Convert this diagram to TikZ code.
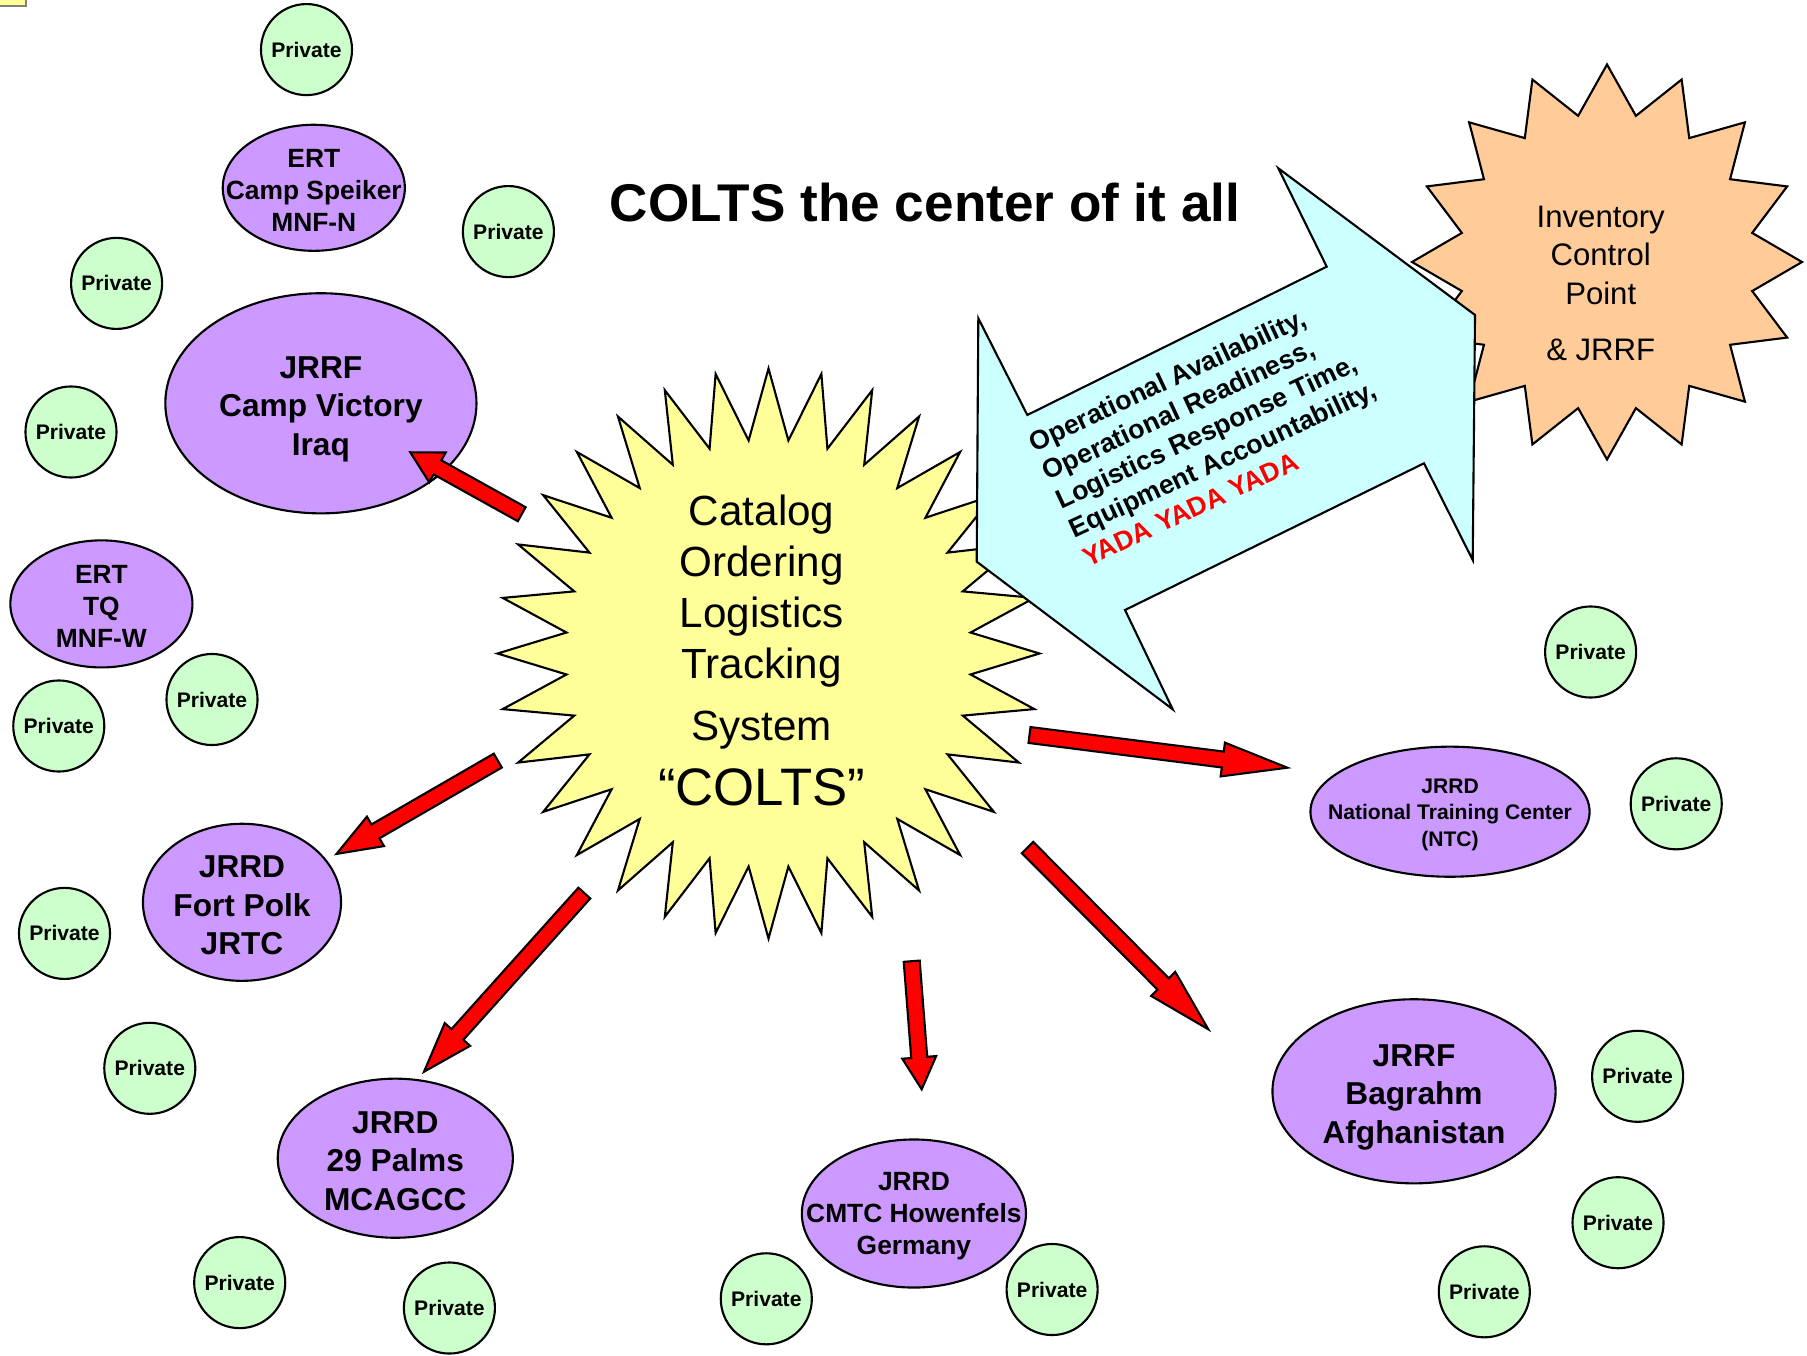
\documentclass[tikz,border=0pt]{standalone}
\usepackage{fontspec}
\setmainfont{Liberation Sans}
\usetikzlibrary{calc,shapes.geometric}

\definecolor{privgreen}{HTML}{CCFFCC}
\definecolor{sitepurple}{HTML}{CC99FF}
\definecolor{staryellow}{HTML}{FFFF99}
\definecolor{starorange}{HTML}{FFCC99}
\definecolor{arrowcyan}{HTML}{CCFFFF}

\tikzset{
  private/.style={circle, draw, fill=privgreen, line width=0.6pt, minimum size=0.91cm,
    inner sep=0pt, font=\fontsize{6}{7}\selectfont\bfseries},
  site/.style={ellipse, draw, fill=sitepurple, line width=0.6pt, inner sep=0pt},
  bigsite/.style={align=center, yshift=-0.03cm, font=\fontsize{9}{11}\selectfont\bfseries},
  smallsite/.style={align=center, yshift=-0.025cm, font=\fontsize{7.5}{9.15}\selectfont\bfseries},
  redblock/.style={draw, fill=red, line width=0.6pt, line join=miter},
}

% block arrow: tail, tip, head length
\newcommand{\blockarrow}[3]{%
  \coordinate (hb) at ($(#2)!#3!(#1)$);
  \draw[redblock] ($(#1)!0.08cm!90:(#2)$) -- ($(hb)!0.08cm!90:(#2)$)
    -- ($(hb)!0.17cm!90:(#2)$) -- (#2) -- ($(hb)!0.17cm!-90:(#2)$)
    -- ($(hb)!0.08cm!-90:(#2)$) -- ($(#1)!0.08cm!-90:(#2)$) -- cycle;
}

\begin{document}
\begin{tikzpicture}[x=0.01cm, y=-0.01cm]
\useasboundingbox (0,0) rectangle (1807,1355);

% little tab in the corner
\draw[fill=staryellow, draw=gray, line width=0.6pt] (-10,-10) rectangle (26,6);

% private circles
\foreach \n/\x/\y in {p1/306.5/49.6, p2/508.4/231.6, p3/116.6/283.4, p4/71/432,
    p5/212/699.5, p6/58.8/726, p7/64.5/933.4, p8/149.8/1068.3, p9/239.7/1282.6,
    p10/449.4/1308, p11/766.3/1298.8, p12/1052.1/1289.5, p13/1590.6/652,
    p14/1676.2/803.8, p15/1637.6/1076.3, p16/1618/1222.7, p17/1484.3/1291.8}
  \node[private] (\n) at (\x,\y) {Private};

% sites
\node[site, minimum width=1.82cm, minimum height=1.26cm,
  label={[smallsite]center:ERT\\Camp Speiker\\MNF-N}] (speiker) at (313.8,187.8) {};
\node[site, minimum width=3.11cm, minimum height=2.2cm,
  label={[bigsite, yshift=-0.03cm]center:JRRF\\Camp Victory\\Iraq}] (victory) at (320.9,403.3) {};
\node[site, minimum width=1.82cm, minimum height=1.27cm,
  label={[smallsite]center:ERT\\TQ\\MNF-W}] (tq) at (101.4,603.9) {};
\node[site, minimum width=1.98cm, minimum height=1.57cm,
  label={[bigsite]center:JRRD\\Fort Polk\\JRTC}] (polk) at (242,902.3) {};
\node[site, minimum width=2.35cm, minimum height=1.59cm,
  label={[bigsite]center:JRRD\\29 Palms\\MCAGCC}] (palms) at (395.3,1158.2) {};
\node[site, minimum width=2.24cm, minimum height=1.48cm,
  label={[smallsite]center:JRRD\\CMTC Howenfels\\Germany}] (cmtc) at (913.9,1213.5) {};
\node[site, minimum width=2.83cm, minimum height=1.84cm,
  label={[bigsite, yshift=-0.03cm]center:JRRF\\Bagrahm\\Afghanistan}] (bagrahm) at (1414,1091.3) {};
\node[site, minimum width=2.79cm, minimum height=1.3cm,
  label={[align=center, yshift=-0.03cm, font=\fontsize{6}{7.6}\selectfont\bfseries]center:JRRD\\National Training Center\\(NTC)}] (ntc) at (1450,811.7) {};

% red arrows out of the center
\coordinate (v0) at (521.7,514.2);   \coordinate (v1) at (410.3,452.3);
\coordinate (f0) at (497.8,760.6);   \coordinate (f1) at (336.5,853.9);
\coordinate (m0) at (584.3,893.1);   \coordinate (m1) at (424,1071.7);
\coordinate (c0) at (911.7,961.2);   \coordinate (c1) at (921.7,1089.3);
\coordinate (b0) at (1027.5,847.5);  \coordinate (b1) at (1208.3,1029.3);
\coordinate (n0) at (1029.5,735);    \coordinate (n1) at (1287.3,767.7);
\blockarrow{v0}{v1}{0.31cm}
\blockarrow{f0}{f1}{0.45cm}
\blockarrow{m0}{m1}{0.5cm}
\blockarrow{c0}{c1}{0.32cm}
\blockarrow{b0}{b1}{0.64cm}
\blockarrow{n0}{n1}{0.65cm}

% the COLTS star
\draw[fill=staryellow, line width=0.6pt] plot[samples at={0,...,64}, variable=\k]
  ({768.5+(271-68*mod(\k,2))*cos(90+5.625*\k)}, {653.5+(285-71*mod(\k,2))*sin(90+5.625*\k)}) -- cycle;
\node[align=center, inner sep=0pt, font=\fontsize{12}{14.5}\selectfont] (colts) at (761.7,650)
  {Catalog\\Ordering\\Logistics\\Tracking\\[3.3pt]System\\[3.8pt]{\fontsize{15}{18}\selectfont “COLTS”}};

% inventory control point star
\draw[fill=starorange, line width=0.6pt] plot[samples at={0,...,32}, variable=\k]
  ({1607+(195-47*mod(\k,2))*cos(90+11.25*\k)}, {262+(197.5-48.5*mod(\k,2))*sin(90+11.25*\k)}) -- cycle;
\node[align=center, inner sep=0pt, font=\fontsize{8.85}{10.9}\selectfont] (icp) at (1600.7,283.7)
  {Inventory\\Control\\Point\\[5.2pt]\& JRRF};

% two way arrow
\draw[fill=arrowcyan, line width=0.6pt] (978.3,318.3) -- (1027.3,415) -- (1326.7,266.7)
  -- (1278.3,168.3) -- (1475,315) -- (1472.7,560) -- (1424,463.3) -- (1125,610)
  -- (1172.7,709.3) -- (976.7,561.7) -- cycle;
\node[rotate=25, anchor=north west, align=left, inner sep=0pt,
  font=\fontsize{7.6}{9}\selectfont\bfseries] (metrics) at (1025.4,434.4)
  {Operational Availability,\\Operational Readiness,\\Logistics Response Time,\\
   Equipment Accountability,\\\textcolor{red}{YADA YADA YADA}};

\node[font=\fontsize{15.1}{18}\selectfont\bfseries] (title) at (925,203) {COLTS the center of it all};
\end{tikzpicture}
\end{document}
